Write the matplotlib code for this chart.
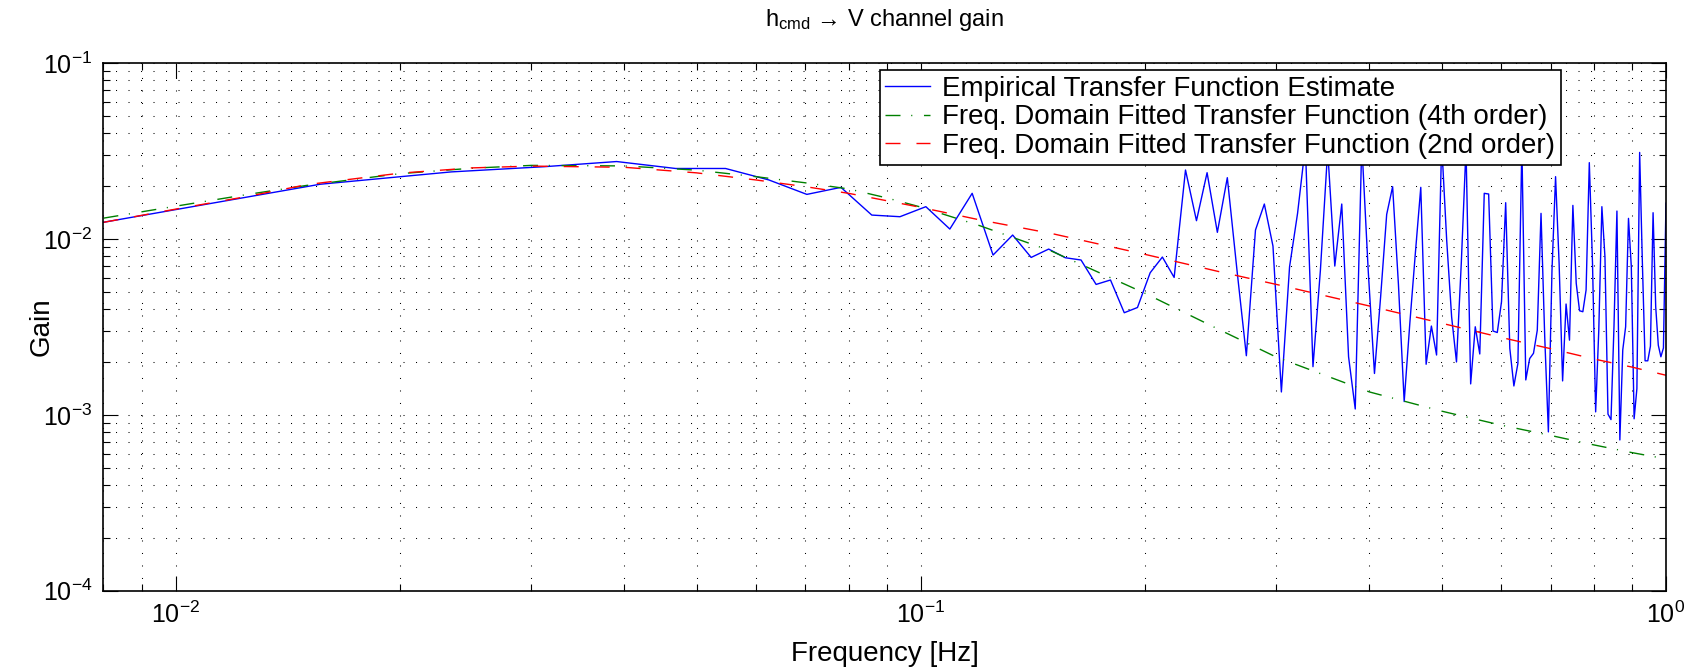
import matplotlib
matplotlib.use('Agg')
import matplotlib.pyplot as plt
import numpy as np

plt.rcParams['font.family'] = ['Liberation Sans', 'DejaVu Sans']
plt.rcParams['mathtext.fontset'] = 'custom'
plt.rcParams['mathtext.rm'] = 'Liberation Sans'
plt.rcParams['mathtext.it'] = 'Liberation Sans:italic'
plt.rcParams['mathtext.default'] = 'regular'

# FFT bins of the estimate: fs = 2 Hz, 256 point window -> k/128 Hz
freq_hz = np.arange(1, 129) / 128.0

# empirical |H(f)| for h_cmd -> V, one value per bin
gain_empirical = [
    0.01224, 0.0205, 0.0241, 0.0258, 0.0276, 0.0252, 0.0252, 0.0217,
    0.01795, 0.01968, 0.01369, 0.0134, 0.01528, 0.0114, 0.0182, 0.00811,
    0.01054, 0.00786, 0.00877, 0.00783, 0.0076, 0.00552, 0.00585, 0.00381,
    0.00408, 0.00643, 0.0079, 0.00605, 0.0247, 0.01272, 0.02385, 0.01092,
    0.02234, 0.00666, 0.00217, 0.01125, 0.01582, 0.00912, 0.00135, 0.00696,
    0.014, 0.034, 0.00188, 0.00666, 0.032, 0.00702, 0.01582, 0.00214,
    0.00108, 0.035, 0.00666, 0.00172, 0.0047, 0.01381, 0.01986, 0.0055,
    0.00119, 0.00331, 0.00829, 0.01968, 0.00194, 0.0032, 0.00219, 0.035,
    0.00987, 0.00361, 0.0020, 0.00727, 0.033, 0.0015, 0.00317, 0.00222,
    0.0182, 0.01804, 0.0030, 0.00294, 0.0044, 0.0161, 0.00239, 0.00146,
    0.00196, 0.034, 0.00158, 0.00209, 0.00224, 0.00303, 0.014, 0.00278,
    0.0008, 0.00666, 0.02264, 0.0073, 0.00156, 0.00427, 0.00266, 0.01554,
    0.0056, 0.00391, 0.00386, 0.00513, 0.0272, 0.0073, 0.00104, 0.00303,
    0.01528, 0.00793, 0.00101, 0.00094, 0.00317, 0.01443, 0.00072, 0.00234,
    0.00317, 0.01311, 0.00696, 0.00095, 0.00141, 0.0311, 0.0073, 0.00203,
    0.00203, 0.00246, 0.01412, 0.00412, 0.00249, 0.00214, 0.0024, 0.0160,
]

# fitted models sampled on a coarser log grid
fit_freq = [0.008, 0.01, 0.0125, 0.015, 0.02, 0.025, 0.03, 0.04, 0.05,
            0.06, 0.07, 0.08, 0.09, 0.1, 0.12, 0.15, 0.2, 0.25, 0.3,
            0.4, 0.5, 0.6, 0.7, 0.8, 0.9, 1.0]
gain_fit4 = [0.01315, 0.01538, 0.01795, 0.0202, 0.02355, 0.0253, 0.02624,
             0.02606, 0.02466, 0.02265, 0.02089, 0.01928, 0.01714, 0.0152,
             0.01191, 0.00851, 0.00491, 0.00309, 0.00213, 0.00135, 0.00105,
             0.000875, 0.000764, 0.000675, 0.000610, 0.000562]
gain_fit2 = [0.01245, 0.0148, 0.0175, 0.0204, 0.0237, 0.0254, 0.0260,
             0.0256, 0.0238, 0.0217, 0.01986, 0.0182, 0.01652, 0.01514,
             0.01285, 0.01074, 0.00818, 0.00656, 0.00552, 0.00416, 0.00332,
             0.00276, 0.00238, 0.00208, 0.00187, 0.00168]

labels = ['Empirical Transfer Function Estimate',
          'Freq. Domain Fitted Transfer Function (4th order)',
          'Freq. Domain Fitted Transfer Function (2nd order)']

fig = plt.figure(figsize=(16.91, 6.70), dpi=100)
ax = fig.add_axes([0.0612, 0.1184, 0.9240, 0.7872])

ax.loglog(freq_hz, gain_empirical, color='#0000ff', lw=1.0, label=labels[0])
ax.loglog(fit_freq, gain_fit4, color='#008000', lw=1.0,
          dashes=(10.8, 7.7, 0.8, 8.4), label=labels[1])
ax.loglog(fit_freq, gain_fit2, color='#ff0000', lw=1.0,
          dashes=(10.8, 11.5), label=labels[2])

ax.set_xlim(0.008, 1.0)
ax.set_ylim(1e-4, 1e-1)

ax.grid(True, which='both', color='black', lw=0.75, linestyle=(0, (1, 11)))
ax.tick_params(which='both', direction='in', top=True, right=True,
               labelsize=18, width=0.8, pad=8)
ax.tick_params(which='major', length=10.5)
ax.tick_params(which='minor', length=5)
for sp in ax.spines.values():
    sp.set_linewidth(1.2)

ax.set_title('h$_{cmd}$ \u2192 V channel gain', fontsize=17, pad=27)
ax.set_xlabel('Frequency [Hz]', fontsize=20, labelpad=9)
ax.set_ylabel('Gain', fontsize=20)
ax.yaxis.set_label_coords(-0.031, 0.5)

leg = ax.legend(loc='upper right', bbox_to_anchor=(0.9328, 0.987),
                borderaxespad=0, fontsize=20, fancybox=False, framealpha=1,
                edgecolor='black', handlelength=1.6, handletextpad=0.45,
                labelspacing=0.1, borderpad=0.2)
leg.get_frame().set_linewidth(1.2)

fig.savefig('out.png', dpi=100)
